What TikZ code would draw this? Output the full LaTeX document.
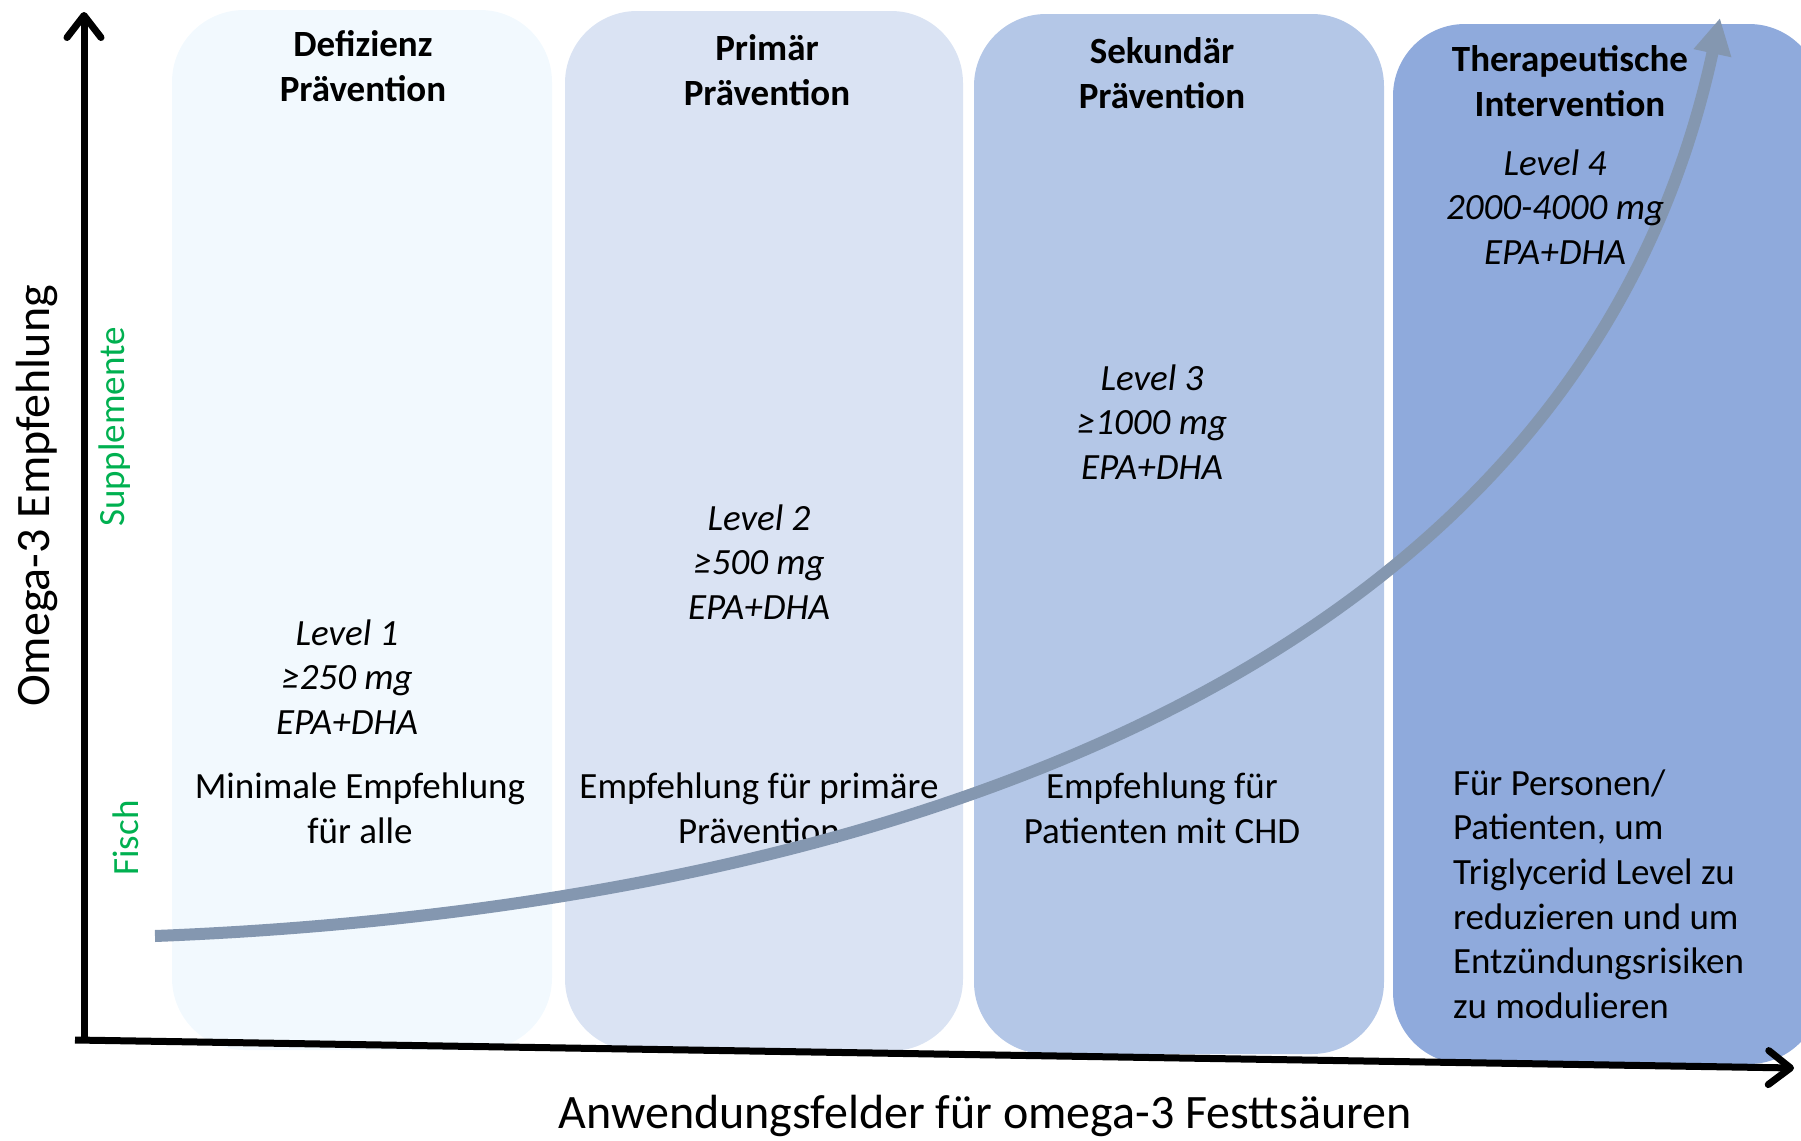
\documentclass[tikz,border=0pt]{standalone}
\usepackage{fontspec}
\setmainfont{Carlito}
\usetikzlibrary{arrows.meta}
\definecolor{fielda}{HTML}{F2F9FE}
\definecolor{fieldb}{HTML}{DAE3F3}
\definecolor{fieldc}{HTML}{B4C7E7}
\definecolor{fieldd}{HTML}{8FAADC}
\definecolor{trend}{HTML}{8497B0}
\definecolor{sourcegreen}{HTML}{00B050}
\begin{document}
\begin{tikzpicture}[x=0.5pt,y=-0.5pt,
  field/.style={rectangle,rounded corners=36pt,draw=none,inner sep=0pt,minimum height=520pt},
  head/.style={font=\bfseries\fontsize{18.5}{22.3}\selectfont,align=center},
  dose/.style={font=\itshape\fontsize{18.5}{22.3}\selectfont,align=center},
  note/.style={font=\fontsize{18.5}{22.3}\selectfont,align=center},
  axis/.style={line width=3.5pt,-{Straight Barb[round,length=11pt,width=17pt]}},
  source/.style={rotate=90,text=sourcegreen,font=\fontsize{18.5}{22.3}\selectfont}]
\useasboundingbox (0,0) rectangle (1801,1141);
% application fields
\node[field,fill=fielda,minimum width=190pt] (fa) at (362,530) {};
\node[field,fill=fieldb,minimum width=199pt] (fb) at (764,531) {};
\node[field,fill=fieldc,minimum width=205pt] (fc) at (1179,534) {};
\node[field,fill=fieldd,minimum width=214pt] (fd) at (1607,544) {};
% target groups
\node[note] (na) at (360,808) {Minimale Empfehlung\\für alle};
\node[note] (nb) at (759,808) {Empfehlung für primäre\\Prävention};
\node[note] (nc) at (1162,808) {Empfehlung für\\Patienten mit CHD};
\node[note,align=left,anchor=west] (nd) at (1446,894) {Für Personen/\\Patienten, um\\Triglycerid Level zu\\reduzieren und um\\Entzündungsrisiken\\zu modulieren};
% rising recommendation
\coordinate (low) at (155,936);
\coordinate (high) at (1720,18);
\draw[trend,line width=6pt,-{Triangle[length=18pt,width=18pt]}]
  (low) .. controls (700,915) and (1560,760) .. (high);
% axes
\coordinate (origin) at (84,1040);
\coordinate (ytop) at (84,12);
\coordinate (xleft) at (75,1040);
\coordinate (xright) at (1794,1068);
\draw[axis] (origin) -- (ytop);
\draw[axis] (xleft) -- (xright);
% headings
\node[head] (ha) at (363,66) {Defizienz\\Prävention};
\node[head] (hb) at (767,70) {Primär\\Prävention};
\node[head] (hc) at (1162,73) {Sekundär\\Prävention};
\node[head] (hd) at (1570,81) {Therapeutische\\Intervention};
% dose levels
\node[dose] (la) at (347,677) {Level 1\\≥250 mg\\EPA+DHA};
\node[dose] (lb) at (759,562) {Level 2\\≥500 mg\\EPA+DHA};
\node[dose] (lc) at (1152,422) {Level 3\\≥1000 mg\\EPA+DHA};
\node[dose] (ld) at (1555,207) {Level 4\\2000-4000 mg\\EPA+DHA};
% axis labels
\node[font=\fontsize{24}{29}\selectfont] (xlabel) at (985,1116) {Anwendungsfelder für omega-3 Festtsäuren};
\node[rotate=90,font=\fontsize{24}{29}\selectfont] (ylabel) at (37,496) {Omega-3 Empfehlung};
\node[source] (supp) at (115,427) {Supplemente};
\node[source] (fish) at (126,838) {Fisch};
\end{tikzpicture}
\end{document}
